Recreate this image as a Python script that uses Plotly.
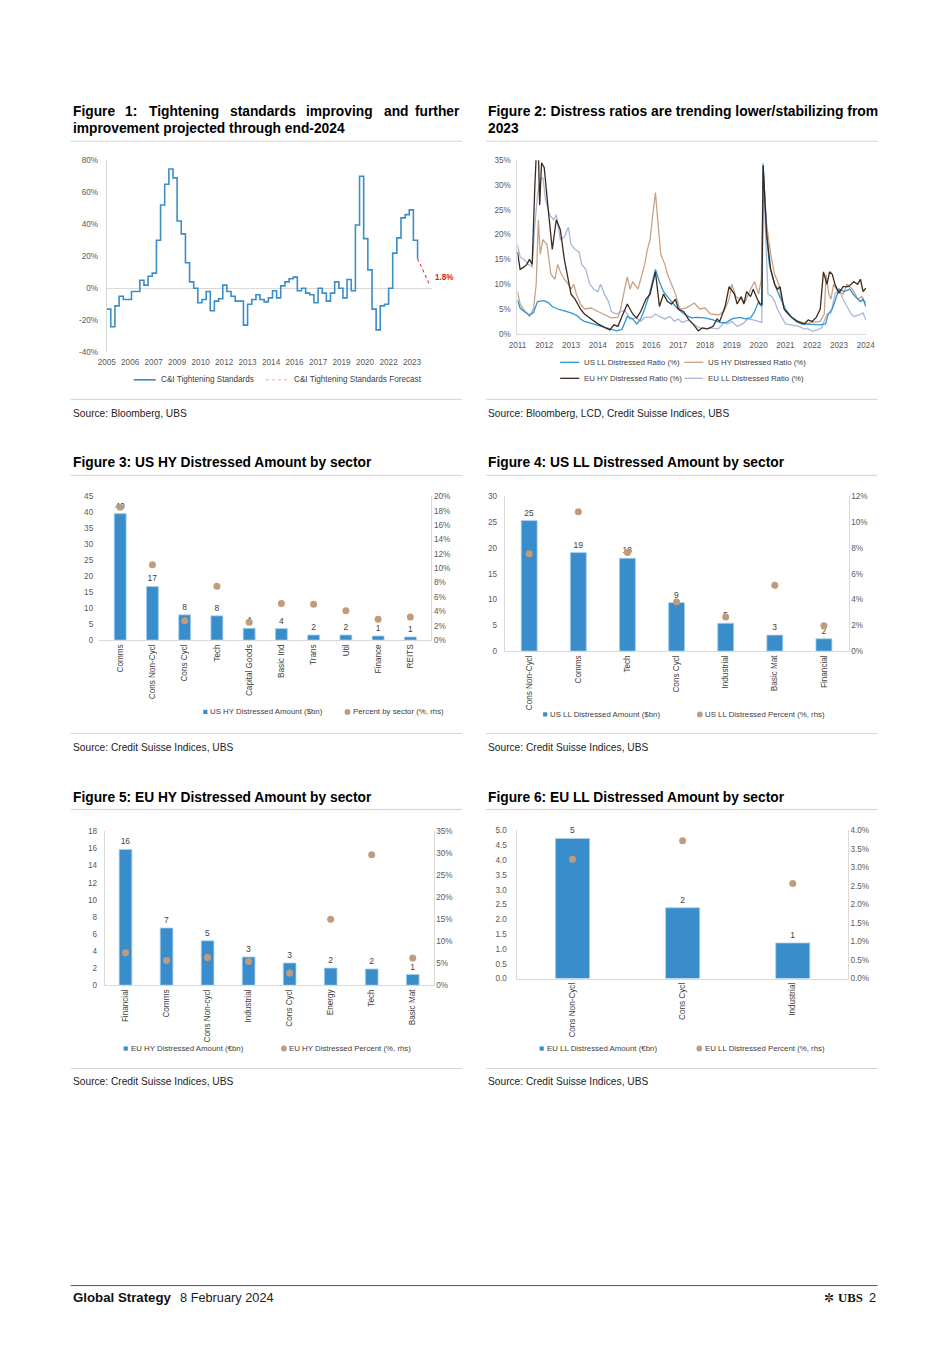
import plotly.graph_objects as go
import pandas as pd

W, H = 950, 1345
# page-position helpers (calibrated so that the photographed page lands on the reference positions)
SX, OXP = 0.98, 10.4
SY, OYP = 0.993, 3.8
def X(p): return ((p - OXP) / SX) / W
def Y(p): return 1 - ((p - OYP) / SY) / H
FS = 1.02  # font compensation

FONT = "Liberation Sans"
LINEC = "#D9D9D9"
TICKC = "#595959"
TXTC = "#404040"
BAR_BLUE = "#3A8DCB"
BAR_EDGE = "#A9D3EF"
DOT_TAN = "#C09C7C"

# ---------------- Figure 1: C&I tightening standards (quarterly, %) ----------------
ci_start = "2005-01-01"
ci_values = [-13, -24, -11, -5, -7, -7, -2, -2,
             5, 2, 7.5, 9.5, 30, 52, 65, 74.5,
             69, 42, 34, 16, 4, 0, -9, -7,
             -2, -14, -8, -6.5, 2, -2, -5, -8,
             -8, -23, -10, -7, -4, -7, -8.5, -6,
             -1.5, -6, 1.5, 4, 6, 7, -1.5, 0,
             -3, -4, -9, 0, -3, -8, -3, 4,
             0, -6, 5.5, -1.5, 39.5, 70, 31, 11.5,
             -13, -26, -11, -10, 0, 22, 31.5, 44,
             46, 49, 30, 18.5]
ci_forecast_dates = ["2023-10-01", "2024-07-01"]
ci_forecast_values = [18.5, 1.8]
ci_tick_dates = ["2005-01-01", "2006-06-01", "2007-11-01", "2009-04-01", "2010-09-01",
                 "2012-02-01", "2013-07-01", "2014-12-01", "2016-05-01", "2017-10-01",
                 "2019-03-01", "2020-08-01", "2022-01-01", "2023-06-01"]
ci_tick_labels = ["2005", "2006", "2007", "2009", "2010", "2012", "2013", "2014",
                  "2016", "2017", "2019", "2020", "2022", "2023"]

# ---------------- Figure 2: distress ratios (year, %) ----------------
us_ll_ratio = [(2011.0, 6.8), (2011.1, 5.2), (2011.25, 4.5), (2011.45, 3.8), (2011.6, 4.3),
               (2011.75, 6.5), (2012.0, 6.7), (2012.15, 6.3), (2012.3, 5.5), (2012.5, 5.0),
               (2012.75, 4.6), (2013.0, 4.2), (2013.25, 3.6), (2013.35, 3.0), (2013.5, 2.5),
               (2013.75, 2.1), (2014.0, 1.8), (2014.25, 1.3), (2014.5, 1.0), (2014.7, 0.6),
               (2014.9, 0.9), (2015.0, 2.2), (2015.1, 3.5), (2015.3, 3.0), (2015.45, 2.0),
               (2015.6, 3.0), (2015.75, 5.0), (2015.9, 7.5), (2016.05, 10.5), (2016.15, 13.0),
               (2016.3, 10.5), (2016.45, 8.5), (2016.6, 7.5), (2016.75, 6.5), (2016.9, 5.5),
               (2017.1, 4.5), (2017.3, 3.7), (2017.5, 3.2), (2017.7, 3.3), (2018.0, 3.2),
               (2018.3, 2.8), (2018.6, 2.2), (2018.8, 2.3), (2019.0, 3.0), (2019.3, 3.3),
               (2019.5, 3.0), (2019.7, 3.2), (2019.85, 4.5), (2020.0, 6.5), (2020.1, 5.6),
               (2020.13, 5.8), (2020.17, 34.0), (2020.3, 20.0), (2020.4, 14.0), (2020.6, 10.0),
               (2020.75, 8.0), (2021.0, 5.0), (2021.2, 3.5), (2021.4, 2.5), (2021.6, 2.0),
               (2022.0, 1.8), (2022.3, 1.8), (2022.5, 2.0), (2022.6, 4.0), (2022.75, 5.0),
               (2022.9, 7.5), (2023.0, 9.0), (2023.2, 8.5), (2023.4, 9.0), (2023.6, 7.5),
               (2023.8, 6.5), (2023.9, 7.0), (2024.0, 5.5)]
us_hy_ratio = [(2011.0, 8.5), (2011.1, 6.0), (2011.25, 4.8), (2011.45, 3.5), (2011.6, 5.0),
               (2011.7, 10.0), (2011.78, 23.0), (2011.85, 16.0), (2011.95, 19.0), (2012.1, 18.0),
               (2012.25, 12.0), (2012.4, 11.0), (2012.5, 14.0), (2012.6, 12.5), (2012.75, 11.0),
               (2012.9, 10.0), (2013.0, 9.0), (2013.1, 10.0), (2013.2, 8.0), (2013.35, 6.0),
               (2013.5, 5.0), (2013.75, 5.2), (2014.0, 4.5), (2014.25, 3.8), (2014.5, 3.2),
               (2014.75, 3.3), (2014.85, 5.0), (2015.0, 9.0), (2015.1, 11.5), (2015.2, 9.0),
               (2015.3, 10.5), (2015.5, 9.0), (2015.6, 11.0), (2015.75, 14.0), (2015.85, 17.0),
               (2015.95, 19.0), (2016.05, 24.0), (2016.15, 28.5), (2016.25, 22.0), (2016.35, 16.0),
               (2016.5, 14.0), (2016.6, 12.0), (2016.75, 10.0), (2016.9, 8.0), (2017.05, 5.0),
               (2017.3, 5.2), (2017.6, 6.2), (2017.8, 5.0), (2018.0, 5.2), (2018.2, 4.0),
               (2018.5, 3.8), (2018.7, 4.5), (2018.9, 7.0), (2019.0, 10.0), (2019.15, 7.5),
               (2019.3, 7.0), (2019.5, 6.5), (2019.7, 9.0), (2019.85, 10.5), (2020.0, 8.0),
               (2020.1, 11.0), (2020.17, 33.0), (2020.3, 22.0), (2020.45, 16.0), (2020.6, 12.0),
               (2020.75, 10.0), (2020.9, 6.0), (2021.0, 4.5), (2021.3, 3.0), (2021.5, 2.5),
               (2021.75, 2.0), (2022.0, 2.3), (2022.3, 2.5), (2022.45, 4.0), (2022.52, 12.0),
               (2022.62, 8.0), (2022.7, 7.0), (2022.8, 10.0), (2022.9, 9.0), (2023.0, 8.5),
               (2023.15, 8.0), (2023.3, 10.0), (2023.5, 9.0), (2023.7, 7.0), (2023.85, 7.5),
               (2024.0, 6.2)]
eu_hy_ratio = [(2011.0, 16.5), (2011.1, 13.0), (2011.25, 13.5), (2011.35, 14.0), (2011.45, 15.0),
               (2011.55, 14.0), (2011.65, 30.0), (2011.72, 38.0), (2011.78, 37.0), (2011.83, 26.0),
               (2011.9, 34.5), (2012.0, 33.5), (2012.15, 25.0), (2012.3, 17.0), (2012.45, 23.0),
               (2012.6, 21.0), (2012.75, 15.0), (2012.85, 12.0), (2013.0, 8.0), (2013.15, 7.0),
               (2013.35, 5.0), (2013.5, 4.0), (2013.75, 3.0), (2014.0, 2.0), (2014.25, 1.3),
               (2014.45, 0.8), (2014.6, 1.8), (2014.75, 1.5), (2014.9, 3.5), (2015.1, 6.0),
               (2015.3, 4.0), (2015.45, 3.2), (2015.6, 4.5), (2015.8, 7.0), (2015.95, 8.0),
               (2016.15, 12.5), (2016.3, 5.5), (2016.45, 8.0), (2016.6, 6.5), (2016.75, 6.0),
               (2016.9, 7.0), (2017.0, 5.0), (2017.2, 4.5), (2017.4, 2.8), (2017.55, 2.0),
               (2017.75, 0.6), (2017.9, 1.2), (2018.1, 1.0), (2018.3, 1.5), (2018.45, 3.0),
               (2018.55, 2.5), (2018.75, 5.5), (2018.9, 9.5), (2019.1, 8.0), (2019.2, 6.0),
               (2019.35, 7.5), (2019.45, 6.0), (2019.55, 8.5), (2019.7, 7.5), (2019.8, 9.0),
               (2019.95, 7.0), (2020.05, 6.0), (2020.12, 6.0), (2020.17, 34.0), (2020.3, 20.0),
               (2020.45, 13.0), (2020.6, 10.0), (2020.7, 9.0), (2020.8, 9.5), (2020.95, 5.0),
               (2021.2, 3.5), (2021.45, 2.5), (2021.7, 2.0), (2021.85, 2.8), (2022.0, 2.5),
               (2022.15, 3.3), (2022.3, 5.0), (2022.42, 12.5), (2022.55, 10.0), (2022.65, 12.5),
               (2022.75, 12.0), (2022.85, 10.0), (2023.0, 8.2), (2023.15, 9.5), (2023.35, 9.5),
               (2023.55, 10.5), (2023.7, 10.0), (2023.8, 11.0), (2023.9, 8.5), (2024.0, 9.2)]
eu_ll_ratio = [(2011.0, 18.0), (2011.1, 15.5), (2011.25, 15.0), (2011.4, 14.0), (2011.55, 13.5),
               (2011.65, 22.0), (2011.75, 28.0), (2011.85, 31.0), (2011.95, 31.5), (2012.05, 27.0),
               (2012.2, 24.0), (2012.35, 23.0), (2012.45, 24.0), (2012.6, 19.0), (2012.75, 19.5),
               (2012.9, 21.5), (2013.0, 18.0), (2013.15, 17.0), (2013.3, 16.5), (2013.4, 14.0),
               (2013.55, 13.0), (2013.7, 10.0), (2013.85, 9.0), (2014.0, 8.5), (2014.1, 10.0),
               (2014.25, 8.0), (2014.4, 6.5), (2014.5, 4.5), (2014.7, 4.0), (2014.9, 4.5),
               (2015.0, 4.8), (2015.2, 3.0), (2015.45, 3.2), (2015.6, 2.5), (2015.75, 3.3),
               (2016.0, 3.3), (2016.15, 4.0), (2016.3, 3.5), (2016.5, 3.0), (2016.7, 3.5),
               (2016.85, 2.5), (2017.0, 3.0), (2017.15, 2.3), (2017.4, 2.8), (2017.6, 1.8),
               (2017.8, 1.2), (2018.0, 1.0), (2018.2, 1.2), (2018.5, 1.0), (2018.7, 2.2),
               (2018.85, 2.0), (2019.0, 2.5), (2019.2, 1.5), (2019.4, 2.0), (2019.6, 3.0),
               (2019.8, 2.8), (2019.95, 2.5), (2020.12, 2.3), (2020.16, 34.5), (2020.25, 22.0),
               (2020.35, 8.0), (2020.5, 7.5), (2020.6, 6.5), (2020.7, 5.0), (2020.85, 3.5),
               (2021.0, 2.0), (2021.2, 1.8), (2021.5, 1.5), (2021.7, 1.0), (2021.85, 1.0),
               (2022.0, 0.5), (2022.2, 0.8), (2022.35, 1.2), (2022.45, 2.5), (2022.55, 4.0),
               (2022.7, 4.2), (2022.85, 8.0), (2023.0, 9.0), (2023.15, 7.0), (2023.3, 5.5),
               (2023.45, 4.0), (2023.55, 3.5), (2023.75, 3.8), (2023.9, 4.2), (2024.0, 2.8)]
ratio_years = list(range(2011, 2025))

# ---------------- Figure 3: US HY distressed by sector ----------------
us_hy_sectors = ["Comms", "Cons Non-Cycl", "Cons Cycl", "Tech", "Capital Goods",
                 "Basic Ind", "Trans", "Util", "Finance", "REITS"]
us_hy_amount = [39.6, 16.8, 7.9, 7.6, 3.7, 3.6, 1.6, 1.6, 1.3, 1.0]
us_hy_pct = [18.5, 10.5, 2.7, 7.5, 2.5, 5.1, 5.0, 4.1, 2.9, 3.2]

# ---------------- Figure 4: US LL distressed by sector ----------------
us_ll_sectors = ["Cons Non-Cycl", "Comms", "Tech", "Cons Cycl", "Industrial", "Basic Mat", "Financial"]
us_ll_amount = [25.3, 19.1, 18.0, 9.4, 5.4, 3.1, 2.4]
us_ll_pct = [7.55, 10.8, 7.65, 3.8, 2.64, 5.1, 1.97]

# ---------------- Figure 5: EU HY distressed by sector ----------------
eu_hy_sectors = ["Financial", "Comms", "Cons Non-cycl", "Industrial", "Cons Cycl",
                 "Energy", "Tech", "Basic Mat"]
eu_hy_amount = [15.9, 6.7, 5.2, 3.3, 2.6, 2.0, 1.9, 1.25]
eu_hy_pct = [7.4, 5.6, 6.3, 5.4, 2.8, 15.0, 29.7, 6.2]

# ---------------- Figure 6: EU LL distressed by sector ----------------
eu_ll_sectors = ["Cons Non-Cycl", "Cons Cycl", "Industrial"]
eu_ll_amount = [4.73, 2.39, 1.2]
eu_ll_pct = [3.22, 3.72, 2.57]

fig = go.Figure()

# ---- Figure 1 traces
ci_dates = pd.date_range(ci_start, periods=len(ci_values), freq="3MS")
fig.add_trace(go.Scatter(x=ci_dates, y=ci_values, mode="lines", line_shape="hv",
                         line=dict(color="#3C8CC6", width=1.6), xaxis="x", yaxis="y"))
fig.add_trace(go.Scatter(x=ci_forecast_dates, y=ci_forecast_values, mode="lines",
                         line=dict(color="#E03A3A", width=1.1, dash="dot"), xaxis="x", yaxis="y"))

# ---- Figure 2 traces
ratio_series = [(us_ll_ratio, "#2E96D3"), (us_hy_ratio, "#C9A283"),
                (eu_hy_ratio, "#3A2A20"), (eu_ll_ratio, "#A9B7DA")]
for series, col in [ratio_series[3], ratio_series[1], ratio_series[0], ratio_series[2]]:
    fig.add_trace(go.Scatter(x=[p[0] for p in series], y=[p[1] for p in series], mode="lines",
                             line=dict(color=col, width=1.3), xaxis="x2", yaxis="y2"))

# ---- Bar charts
bar_sets = [
    (us_hy_sectors, us_hy_amount, us_hy_pct, "x3", "y3", "y4", 0.37),
    (us_ll_sectors, us_ll_amount, us_ll_pct, "x4", "y5", "y6", 0.325),
    (eu_hy_sectors, eu_hy_amount, eu_hy_pct, "x5", "y7", "y8", 0.31),
    (eu_ll_sectors, eu_ll_amount, eu_ll_pct, "x6", "y9", "y10", 0.31),
]
for cats, amt, pct, xa, ya, ya2, w in bar_sets:
    fig.add_trace(go.Bar(x=cats, y=amt, width=w, xaxis=xa, yaxis=ya,
                         marker=dict(color=BAR_BLUE, line=dict(color=BAR_EDGE, width=0.8)),
                         texttemplate="%{y:.0f}", textposition="outside", cliponaxis=False,
                         textfont=dict(size=8.3 * FS, color=TXTC, family=FONT)))
    fig.add_trace(go.Scatter(x=cats, y=pct, mode="markers", xaxis=xa, yaxis=ya2,
                             marker=dict(color=DOT_TAN, size=7), cliponaxis=False))

tickfont = dict(size=8 * FS, color=TICKC, family=FONT)
catfont = dict(size=8 * FS, color=TXTC, family=FONT)

layout = dict(
    width=W, height=H, margin=dict(l=0, r=0, t=0, b=0),
    paper_bgcolor="white", plot_bgcolor="white", showlegend=False,
    font=dict(family=FONT, color=TXTC),
    # Figure 1
    xaxis=dict(domain=[X(108), X(433)], type="date", range=["2005-01-01", "2024-08-15"],
               tickvals=ci_tick_dates, ticktext=ci_tick_labels, showgrid=False, zeroline=False,
               showline=False, tickfont=tickfont, anchor="y", ticks="", ticklabelstandoff=4),
    yaxis=dict(domain=[Y(352), Y(160)], range=[-40, 80], tickvals=[-40, -20, 0, 20, 40, 60, 80],
               ticktext=["-40%", "-20%", "0%", "20%", "40%", "60%", "80%"], showgrid=False,
               zeroline=True, zerolinecolor=LINEC, zerolinewidth=1, showline=True,
               linecolor=LINEC, tickfont=tickfont, anchor="x", ticks="", ticklabelstandoff=6),
    # Figure 2
    xaxis2=dict(domain=[X(518.3), X(866.8)], range=[2011.0, 2024.02], tickvals=ratio_years,
                ticktext=[str(v) for v in ratio_years], showgrid=False, zeroline=False,
                showline=True, linecolor=LINEC, tickfont=tickfont, anchor="y2", ticks="",
                ticklabelstandoff=3),
    yaxis2=dict(domain=[Y(333.5), Y(160)], range=[0, 35], dtick=5, ticksuffix="%",
                showgrid=False, zeroline=False, showline=True, linecolor=LINEC,
                tickfont=tickfont, anchor="x2", ticks="", ticklabelstandoff=4),
)

bar_domains = [
    ("xaxis3", "yaxis3", "yaxis4", "x3", "y3", [100.5, 432.3], [496, 639.7], [0, 45], 5, None, False, [0, 20], 2, None, 5),
    ("xaxis4", "yaxis5", "yaxis6", "x4", "y5", [505.5, 849], [496, 650.7], [0, 30], 5, None, True, [0, 12], 2, None, 5),
    ("xaxis5", "yaxis7", "yaxis8", "x5", "y7", [106, 434.5], [831, 984.7], [0, 18], 2, None, True, [0, 35], 5, None, 5),
    ("xaxis6", "yaxis9", "yaxis10", "x6", "y9", [518.3, 848.3], [830, 978], [0, 5], 0.5, ".1f", True, [0, 4], 0.5, ".1f", 8),
]
for xk, yk, y2k, xa, ya, xd, yd, yr, ydt, yfmt, leftline, y2r, y2dt, y2fmt, sto in bar_domains:
    layout[xk] = dict(domain=[X(xd[0]), X(xd[1])], type="category", anchor=ya, showgrid=False,
                      zeroline=False, showline=True, linecolor=LINEC, tickangle=-90,
                      tickfont=catfont, ticks="")
    layout[yk] = dict(domain=[Y(yd[1]), Y(yd[0])], range=yr, dtick=ydt, tick0=0, anchor=xa,
                      showgrid=False, zeroline=False, showline=leftline, linecolor=LINEC,
                      tickfont=tickfont, ticks="", tickformat=yfmt if yfmt else "",
                      ticklabelstandoff=sto)
    layout[y2k] = dict(overlaying=ya, side="right", anchor=xa, range=y2r, dtick=y2dt, tick0=0,
                       showgrid=False, zeroline=False, showline=True, linecolor=LINEC,
                       tickfont=tickfont, ticks="", ticksuffix="%",
                       tickformat=y2fmt if y2fmt else "")
fig.update_layout(**layout)

# ---------------- page furniture ----------------
shapes = []
annos = []

def text(x, y, s, size=7.7, color=TXTC, bold=False, family=FONT, anchor="left"):
    annos.append(dict(x=X(x), y=Y(y), xref="paper", yref="paper", text=(f"<b>{s}</b>" if bold else s),
                      showarrow=False, xanchor=anchor, yanchor="middle",
                      font=dict(size=size * FS, color=color, family=family)))

def hline(x0, x1, y, color="#C8C8C8", width=0.8, dash=None):
    shapes.append(dict(type="line", xref="paper", yref="paper", x0=X(x0), x1=X(x1), y0=Y(y), y1=Y(y),
                       line=dict(color=color, width=width, dash=dash) if dash else dict(color=color, width=width)))

def square(x, y, color, s=4.2):
    shapes.append(dict(type="rect", xref="paper", yref="paper", x0=X(x - s / 2), x1=X(x + s / 2),
                       y0=Y(y + s / 2), y1=Y(y - s / 2), line=dict(width=0), fillcolor=color))

def circle(x, y, color, r=2.9):
    shapes.append(dict(type="circle", xref="paper", yref="paper", x0=X(x - r), x1=X(x + r),
                       y0=Y(y + r), y1=Y(y - r), line=dict(width=0), fillcolor=color))

TITLE_SIZE = 13.5
# Justified first title line of Figure 1: words placed individually
fig1_words = [("Figure", 72, "left"), ("1:", 124, "left"), ("Tightening", 148, "left"),
              ("standards", 229, "left"), ("improving", 305, "left"), ("and", 383, "left"),
              ("further", 463, "right")]
for wd, xx, anc in fig1_words:
    text(xx, 111, wd, TITLE_SIZE, "#000", True, FONT, anc)
text(72, 128, "improvement projected through end-2024", TITLE_SIZE, "#000", True)
text(487, 111, "Figure 2: Distress ratios are trending lower/stabilizing from", 13.65, "#000", True)
text(487, 128, "2023", TITLE_SIZE, "#000", True)
text(72, 462, "Figure 3: US HY Distressed Amount by sector", TITLE_SIZE, "#000", True)
text(487, 462, "Figure 4: US LL Distressed Amount by sector", TITLE_SIZE, "#000", True)
text(72, 797, "Figure 5: EU HY Distressed Amount by sector", TITLE_SIZE, "#000", True)
text(487, 797, "Figure 6: EU LL Distressed Amount by sector", TITLE_SIZE, "#000", True)

for (ytitle, ysrc) in [(141, 399), (475, 733), (809, 1068)]:
    for (x0, x1) in [(72, 463), (487, 878)]:
        hline(x0, x1, ytitle)
        hline(x0, x1, ysrc)

SRC = 10
text(72, 413, "Source: Bloomberg, UBS", SRC, "#222")
text(487, 413, "Source: Bloomberg, LCD, Credit Suisse Indices, UBS", SRC, "#222")
text(72, 747, "Source: Credit Suisse Indices, UBS", SRC, "#222")
text(487, 747, "Source: Credit Suisse Indices, UBS", SRC, "#222")
text(72, 1081, "Source: Credit Suisse Indices, UBS", SRC, "#222")
text(487, 1081, "Source: Credit Suisse Indices, UBS", SRC, "#222")

# Figure 1 legend + label
hline(135, 157, 379.5, "#3C8CC6", 1.6)
text(160.5, 379.5, "C&I Tightening Standards", 8)
hline(267, 290, 379.5, "#F2A8A8", 1.0, "dot")
text(293.5, 379.5, "C&I Tightening Standards Forecast", 8)
text(433.5, 277, "1.8%", 8, "#E02020", True)

# Figure 2 legend
hline(561, 580, 362, "#2E96D3", 1.3)
text(582.5, 362, "US LL Distressed Ratio (%)")
hline(685, 704, 362, "#C9A283", 1.3)
text(706.5, 362, "US HY Distressed Ratio (%)")
hline(561, 580, 378, "#3A2A20", 1.3)
text(582.5, 378, "EU HY Distressed Ratio (%)")
hline(685, 704, 378, "#A9B7DA", 1.3)
text(706.5, 378, "EU LL Distressed Ratio (%)")

# Bar chart legends
square(206.5, 711.5, BAR_BLUE); text(209.5, 711.5, "US HY Distressed Amount ($bn)")
circle(348.5, 711.5, DOT_TAN); text(352, 711.5, "Percent by sector (%, rhs)")
square(546, 714, BAR_BLUE); text(549, 714, "US LL Distressed Amount ($bn)")
circle(700.5, 714, DOT_TAN); text(704, 714, "US LL Distressed Percent (%, rhs)")
square(127, 1048, BAR_BLUE); text(130, 1048, "EU HY Distressed Amount (€bn)")
circle(285, 1048, DOT_TAN); text(288.5, 1048, "EU HY Distressed Percent (%, rhs)")
square(542.5, 1048, BAR_BLUE); text(545.5, 1048, "EU LL Distressed Amount (€bn)")
circle(700, 1048, DOT_TAN); text(703.5, 1048, "EU LL Distressed Percent (%, rhs)")

# Footer
hline(72, 878, 1285, "#555555", 1.0)
text(72, 1297, "Global Strategy", 13, "#111", True)
text(179, 1297, "8 February 2024", 12.5, "#222")
text(837, 1297, "✼", 12, "#111", False, "DejaVu Sans", "right")
text(865, 1297, "UBS", 12.5, "#111", True, "Liberation Serif", "right")
text(878, 1297, "2", 12.5, "#111", False, FONT, "right")

fig.update_layout(shapes=shapes, annotations=annos)
fig.write_html("out.html", config={"displayModeBar": False},
               post_script="document.body.style.margin='0';document.body.style.padding='0';")
